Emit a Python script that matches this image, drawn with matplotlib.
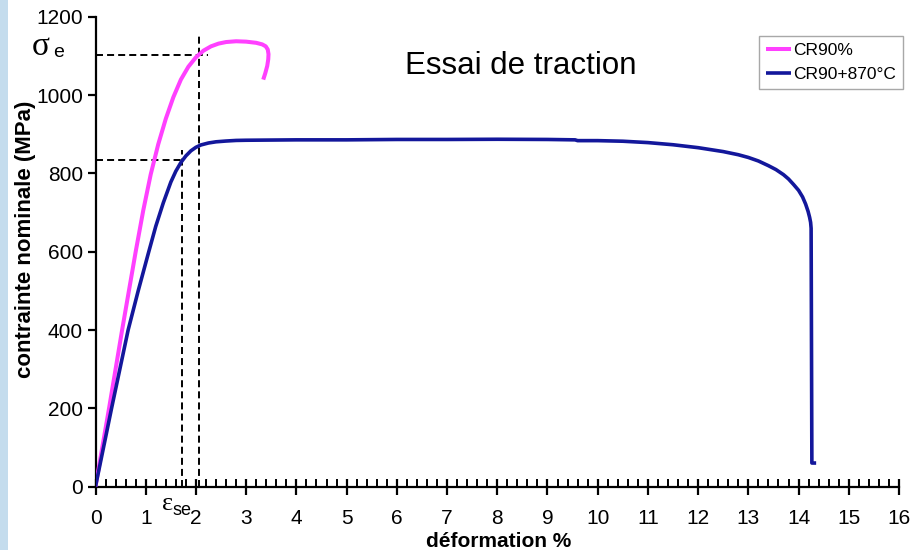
import matplotlib
matplotlib.use("Agg")
import matplotlib.pyplot as plt
from matplotlib.patches import Rectangle
from matplotlib.ticker import MultipleLocator

# Tensile test curves: strain (%) vs nominal stress (MPa)
cr90_strain = [0, 0.27, 0.53, 0.80, 0.95, 1.10, 1.25, 1.40, 1.55, 1.70, 1.85, 2.00,
               2.15, 2.30, 2.45, 2.60, 2.80, 3.00, 3.20, 3.32, 3.39, 3.43, 3.445,
               3.44, 3.42, 3.38, 3.34]
cr90_stress = [0, 200, 400, 600, 705, 798, 875, 940, 995, 1040, 1073, 1097,
               1114, 1125, 1132, 1136, 1138, 1137, 1134, 1130, 1125, 1117, 1105,
               1092, 1075, 1056, 1040]

ann_strain = [0, 0.32, 0.65, 0.85, 1.05, 1.20, 1.35, 1.50, 1.60, 1.70, 1.80, 1.90,
              2.00, 2.10, 2.25, 2.40, 2.60, 2.80, 3.0, 4, 5, 6, 7, 8, 9, 9.55,
              9.6, 10.0, 10.5, 11.0, 11.5, 12.0, 12.5, 12.8, 13.0, 13.2, 13.4,
              13.55, 13.7, 13.8, 13.9, 14.0, 14.08, 14.14, 14.19, 14.22, 14.24,
              14.25, 14.265, 14.35]
ann_stress = [0, 200, 400, 500, 595, 665, 725, 778, 806, 828, 845, 858,
              867, 873, 878, 881, 883, 884.5, 885, 886, 886, 887, 887, 887.5, 887, 886,
              884, 884, 882.5, 879, 873.5, 866, 856, 848, 841, 832, 820,
              810, 797, 786, 772, 757, 740, 722, 703, 688, 675,
              660, 60, 60]

series_labels = ["CR90%", "CR90+870°C"]

# Yield markers (strain %, stress MPa)
yield_cr90 = (2.07, 1104)
yield_ann = (1.73, 834)

fig = plt.figure(figsize=(9.13, 5.5), dpi=100)
fig.patch.set_facecolor("white")
fig.patches.append(Rectangle((0, 0), 8 / 913, 1, transform=fig.transFigure,
                             facecolor="#c4dced", edgecolor="none", zorder=0))

ax = fig.add_axes([95.5 / 913, 63.5 / 550, 803.5 / 913, 469.5 / 550])
plt.rcParams["font.family"] = ["Liberation Sans", "DejaVu Sans"]

pink = "#ff40ff"
navy = "#13179b"

# dashed guide lines for the yield points
dash = dict(color="black", lw=1.4, ls=(0, (3.6, 2.1)), zorder=1)
ax.plot([0, 2.24], [yield_cr90[1]] * 2, **dash)
ax.plot([yield_cr90[0]] * 2, [0, 1158], **dash)
ax.plot([0, yield_ann[0]], [yield_ann[1]] * 2, **dash)
ax.plot([yield_ann[0]] * 2, [0, 860], **dash)

ax.plot(cr90_strain, cr90_stress, color=pink, lw=2.9, solid_capstyle="butt",
        solid_joinstyle="round", label=series_labels[0], zorder=3)
ax.plot(ann_strain, ann_stress, color=navy, lw=2.6, solid_capstyle="butt",
        solid_joinstyle="round", label=series_labels[1], zorder=3)

ax.set_xlim(0, 16)
ax.set_ylim(0, 1200)
for s in ("top", "right"):
    ax.spines[s].set_visible(False)
for s in ("left", "bottom"):
    ax.spines[s].set_linewidth(1.6)
    ax.spines[s].set_color("black")

ax.xaxis.set_major_locator(MultipleLocator(1))
ax.xaxis.set_minor_locator(MultipleLocator(0.2))
ax.yaxis.set_major_locator(MultipleLocator(200))
ax.tick_params(axis="x", which="major", direction="inout", length=12, width=1.6,
               labelsize=15, pad=10)
ax.tick_params(axis="x", which="minor", direction="in", length=6, width=1.4)
ax.tick_params(axis="y", which="major", direction="out", length=6, width=1.6,
               labelsize=15, pad=3)
for lab in ax.get_xticklabels() + ax.get_yticklabels():
    lab.set_fontfamily("Liberation Sans")

ax.set_xlabel("déformation %", fontsize=15, fontweight="bold",
              family="Liberation Sans")
ax.xaxis.set_label_coords(0.502, -0.097)
ax.set_ylabel("contrainte nominale (MPa)", fontsize=16, fontweight="bold",
              family="Liberation Sans", va="center")
ax.yaxis.set_label_coords(-0.087, 0.527)

# symbols for yield stress and yield strain
ax.text(-1.27, 1103, "σ", fontsize=24, family="Liberation Serif",
        ha="left", va="baseline", clip_on=False)
ax.text(-0.85, 1097, "e", fontsize=14, family="Liberation Sans",
        ha="left", va="baseline", clip_on=False)
ax.text(1.32, -60, "ε", fontsize=19, family="Liberation Serif",
        ha="left", va="baseline", clip_on=False)
ax.text(1.54, -73, "se", fontsize=13, family="Liberation Sans",
        ha="left", va="baseline", clip_on=False)

fig.text(521 / 913, 1 - 66 / 550, "Essai de traction", fontsize=22.5,
         family="Liberation Sans", ha="center", va="center")

leg = ax.legend(loc="upper right", bbox_to_anchor=(903 / 913, 1 - 36 / 550),
                bbox_transform=fig.transFigure, borderaxespad=0,
                prop={"family": "Liberation Sans", "size": 12.5},
                handlelength=1.45, handletextpad=0.1, borderpad=0.4,
                labelspacing=0.5, fancybox=False, framealpha=1)
leg.get_frame().set_edgecolor("#a8a8a8")
leg.get_frame().set_linewidth(1.0)

fig.savefig("out.png", dpi=100)
